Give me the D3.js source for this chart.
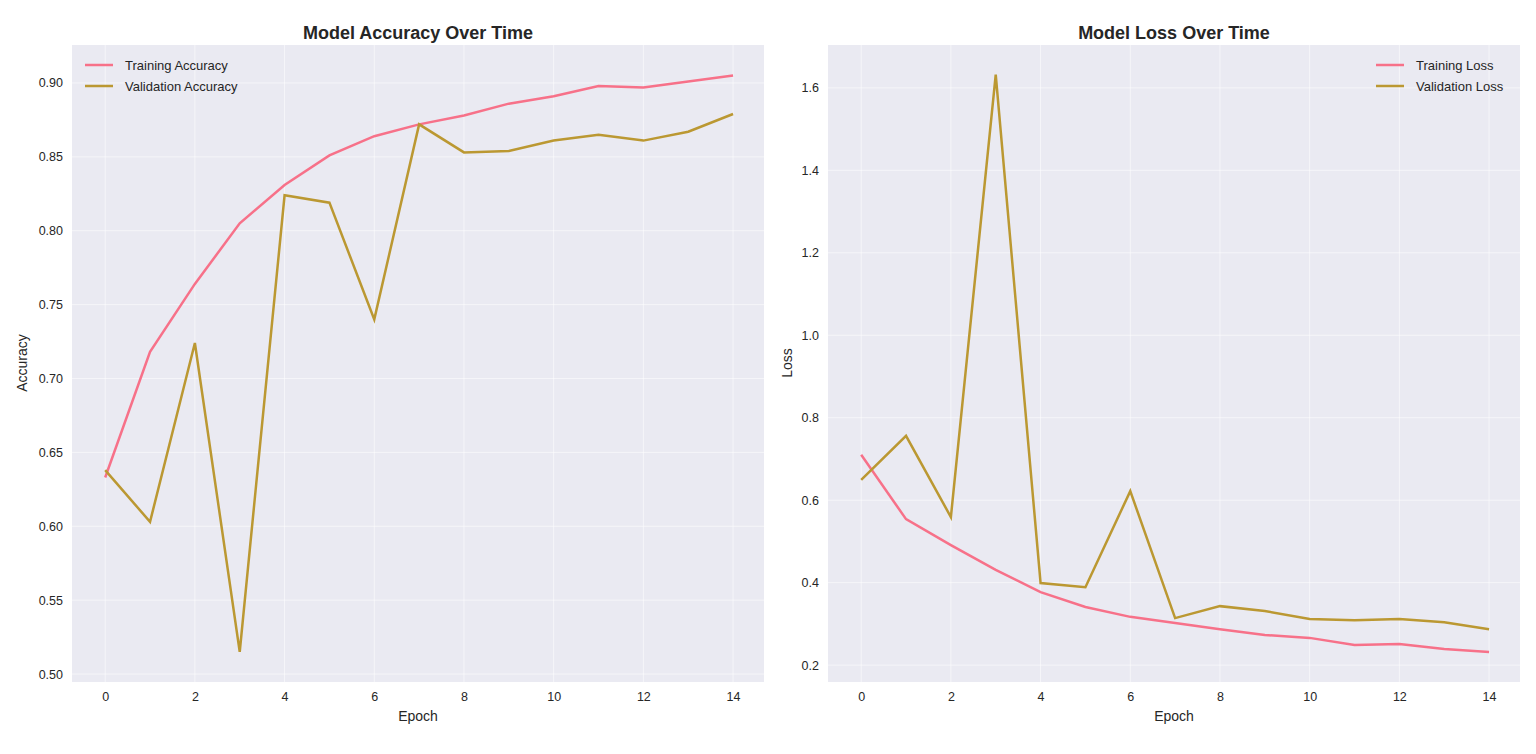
<!DOCTYPE html>
<html><head><meta charset="utf-8">
<script src="https://cdn.jsdelivr.net/npm/d3@7"></script>
<style>body{margin:0;background:#fff;font-family:Arial,"Liberation Sans",sans-serif}</style>
</head><body><svg id="c" width="1536" height="754"></svg>
<script>
const epochs = d3.range(15);
const trainAcc = [0.633,0.718,0.764,0.805,0.831,0.851,0.864,0.872,0.878,0.886,0.891,0.898,0.897,0.901,0.905];
const valAcc = [0.638,0.603,0.724,0.515,0.824,0.819,0.740,0.872,0.853,0.854,0.861,0.865,0.861,0.867,0.879];
const trainLoss = [0.710,0.554,0.491,0.431,0.377,0.341,0.317,0.302,0.287,0.273,0.266,0.249,0.251,0.239,0.232];
const valLoss = [0.649,0.756,0.559,1.632,0.399,0.389,0.622,0.314,0.343,0.331,0.312,0.309,0.312,0.304,0.287];
const accTicks = [0.50,0.55,0.60,0.65,0.70,0.75,0.80,0.85,0.90];
const lossTicks = [0.2,0.4,0.6,0.8,1.0,1.2,1.4,1.6];
const xTicks = [0,2,4,6,8,10,12,14];
const colTrain = "#f77189", colVal = "#bb9832";
const svg = d3.select("#c");

function panel(o){
  const g = svg.append("g");
  const x = d3.scaleLinear().domain([-0.74,14.69]).range([o.x0,o.x1]);
  const y = d3.scaleLinear().domain(o.yd).range([682,45]);
  g.append("rect").attr("x",o.x0).attr("y",45).attr("width",o.x1-o.x0).attr("height",637).attr("fill","#eaeaf2");
  g.selectAll(".gx").data(xTicks).join("line").attr("x1",d=>x(d)).attr("x2",d=>x(d)).attr("y1",45).attr("y2",682).attr("stroke","#fff").attr("stroke-opacity",0.55).attr("stroke-width",1);
  g.selectAll(".gy").data(o.ticks).join("line").attr("x1",o.x0).attr("x2",o.x1).attr("y1",d=>y(d)).attr("y2",d=>y(d)).attr("stroke","#fff").attr("stroke-opacity",0.55).attr("stroke-width",1);
  const xa = g.append("g").attr("transform","translate(0,682)").call(d3.axisBottom(x).tickValues(xTicks).tickSize(0).tickPadding(10));
  const ya = g.append("g").attr("transform",`translate(${o.x0},0)`).call(d3.axisLeft(y).tickValues(o.ticks).tickFormat(o.fmt).tickSize(0).tickPadding(9));
  [xa,ya].forEach(a=>{a.select(".domain").remove();a.selectAll("text").attr("font-size",12.5).attr("fill","#262626").attr("font-family","Arial,Liberation Sans,sans-serif");});
  g.append("text").attr("x",(o.x0+o.x1)/2).attr("y",721).attr("text-anchor","middle").attr("font-size",14).attr("fill","#262626").text("Epoch");
  g.append("text").attr("transform",`translate(${o.x0-o.yl},363) rotate(-90)`).attr("text-anchor","middle").attr("font-size",14).attr("fill","#262626").text(o.ylabel);
  g.append("text").attr("x",(o.x0+o.x1)/2).attr("y",39).attr("text-anchor","middle").attr("font-size",18).attr("font-weight","bold").attr("fill","#262626").text(o.title);
  const line = d3.line().x((d,i)=>x(epochs[i])).y(d=>y(d));
  [[o.s1,colTrain],[o.s2,colVal]].forEach(([s,c])=>g.append("path").datum(s).attr("d",line).attr("fill","none").attr("stroke",c).attr("stroke-width",2.5));
  const lg = g.append("g");
  o.names.forEach((n,i)=>{
    const yy = 65+i*21;
    lg.append("line").attr("x1",o.lx).attr("x2",o.lx+28).attr("y1",yy).attr("y2",yy).attr("stroke",i?colVal:colTrain).attr("stroke-width",2.5);
    lg.append("text").attr("x",o.lx+40).attr("y",yy+4.5).attr("font-size",13).attr("fill","#262626").text(n);
  });
}
panel({x0:72,x1:764,yd:[0.4946,0.9257],ticks:accTicks,fmt:d3.format(".2f"),ylabel:"Accuracy",yl:45,title:"Model Accuracy Over Time",s1:trainAcc,s2:valAcc,names:["Training Accuracy","Validation Accuracy"],lx:85});
panel({x0:828,x1:1520,yd:[0.159,1.704],ticks:lossTicks,fmt:d3.format(".1f"),ylabel:"Loss",yl:36,title:"Model Loss Over Time",s1:trainLoss,s2:valLoss,names:["Training Loss","Validation Loss"],lx:1376});
</script></body></html>
